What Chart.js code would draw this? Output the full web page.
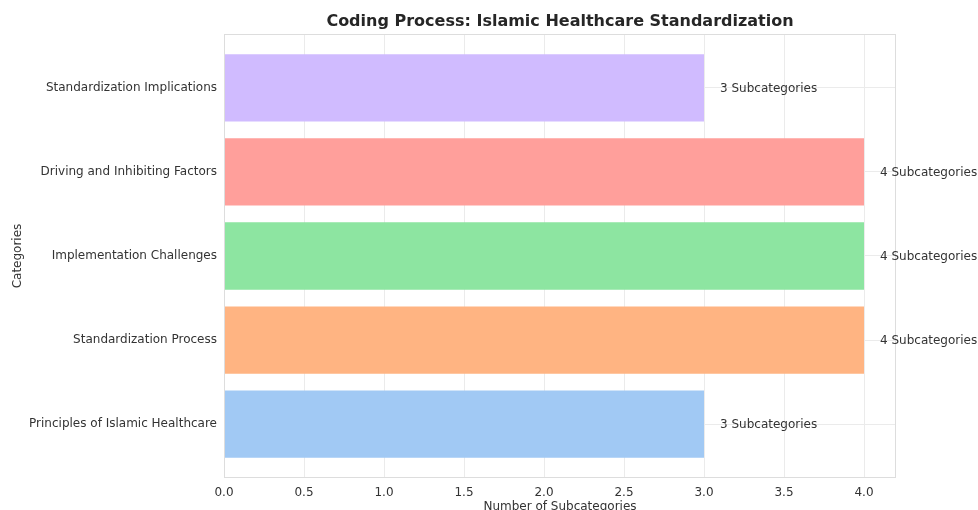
<!DOCTYPE html>
<html>
<head>
<meta charset="utf-8">
<script src="https://cdn.jsdelivr.net/npm/chart.js"></script>
<style>
  body { margin: 0; background: #fff; }
  #wrap { width: 978px; height: 510px; position: relative; }
</style>
</head>
<body>
<div id="wrap"><canvas id="chart"></canvas></div>
<script>
// bottom to top, like the picture
const categories = [
  "Principles of Islamic Healthcare",
  "Standardization Process",
  "Implementation Challenges",
  "Driving and Inhibiting Factors",
  "Standardization Implications"
]
const subcategoryCounts = [3, 4, 4, 4, 3]
const barColors = ["#a1c9f4", "#ffb482", "#8de5a1", "#ff9f9b", "#d0bbff"]
const xTicks = [0, 0.5, 1, 1.5, 2, 2.5, 3, 3.5, 4]

const FONT = "'DejaVu Sans', sans-serif"
const TEXT = "#333333"

// title, frame and the value labels at the end of each bar
const extras = {
  id: "extras",
  afterDatasetsDraw(chart) {
    const { ctx, chartArea: a, scales } = chart
    ctx.save()
    ctx.strokeStyle = "#dddddd"
    ctx.lineWidth = 1
    ctx.strokeRect(a.left + 0.5, a.top + 0.5, a.right - a.left - 1, a.bottom - a.top - 1)

    ctx.fillStyle = TEXT
    ctx.font = "12px " + FONT
    ctx.textAlign = "left"
    ctx.textBaseline = "middle"
    subcategoryCounts.forEach((v, i) => {
      const x = scales.x.getPixelForValue(v + 0.1)
      const y = scales.y.getPixelForValue(i)
      ctx.fillText(v + " Subcategories", x, y + 1)
    })

    ctx.fillStyle = "#262626"
    ctx.font = "bold 16px " + FONT
    ctx.textAlign = "center"
    ctx.fillText("Coding Process: Islamic Healthcare Standardization", (a.left + a.right) / 2, 22)
    ctx.restore()
  }
}

new Chart(document.getElementById("chart"), {
  type: "bar",
  data: {
    datasets: [{
      data: categories.map((c, i) => ({ x: subcategoryCounts[i], y: i })),
      backgroundColor: barColors,
      borderWidth: 0,
      barPercentage: 0.8,
      categoryPercentage: 1
    }]
  },
  options: {
    indexAxis: "y",
    responsive: true,
    maintainAspectRatio: false,
    animation: false,
    layout: { padding: { top: 34, right: 82, left: 0, bottom: 0 } },
    plugins: {
      legend: { display: false },
      tooltip: { enabled: false }
    },
    scales: {
      x: {
        type: "linear",
        min: 0,
        max: 4.2,
        afterBuildTicks: (axis) => { axis.ticks = xTicks.map((v) => ({ value: v })) },
        afterFit: (axis) => { axis.height = 32 },
        grid: { color: "#ebebeb", drawTicks: false },
        border: { display: false },
        ticks: {
          padding: 8,
          color: TEXT,
          font: { family: FONT, size: 12 },
          callback: (v) => Number(v).toFixed(1)
        },
        title: {
          display: true,
          text: "Number of Subcategories",
          color: TEXT,
          font: { family: FONT, size: 12 },
          padding: { top: 0, bottom: -4 }
        }
      },
      y: {
        type: "linear",
        min: -0.64,
        max: 4.64,
        offset: false,
        afterBuildTicks: (axis) => { axis.ticks = categories.map((c, i) => ({ value: i })) },
        afterFit: (axis) => { axis.width = 224 },
        grid: { color: "#ebebeb", drawTicks: false, offset: false },
        border: { display: false },
        ticks: {
          padding: 7,
          color: TEXT,
          font: { family: FONT, size: 12 },
          callback: (v) => categories[v]
        },
        title: {
          display: true,
          text: "Categories",
          color: TEXT,
          font: { family: FONT, size: 12 },
          padding: { top: 11, bottom: 0 }
        }
      }
    }
  },
  plugins: [extras]
})
</script>
</body>
</html>
